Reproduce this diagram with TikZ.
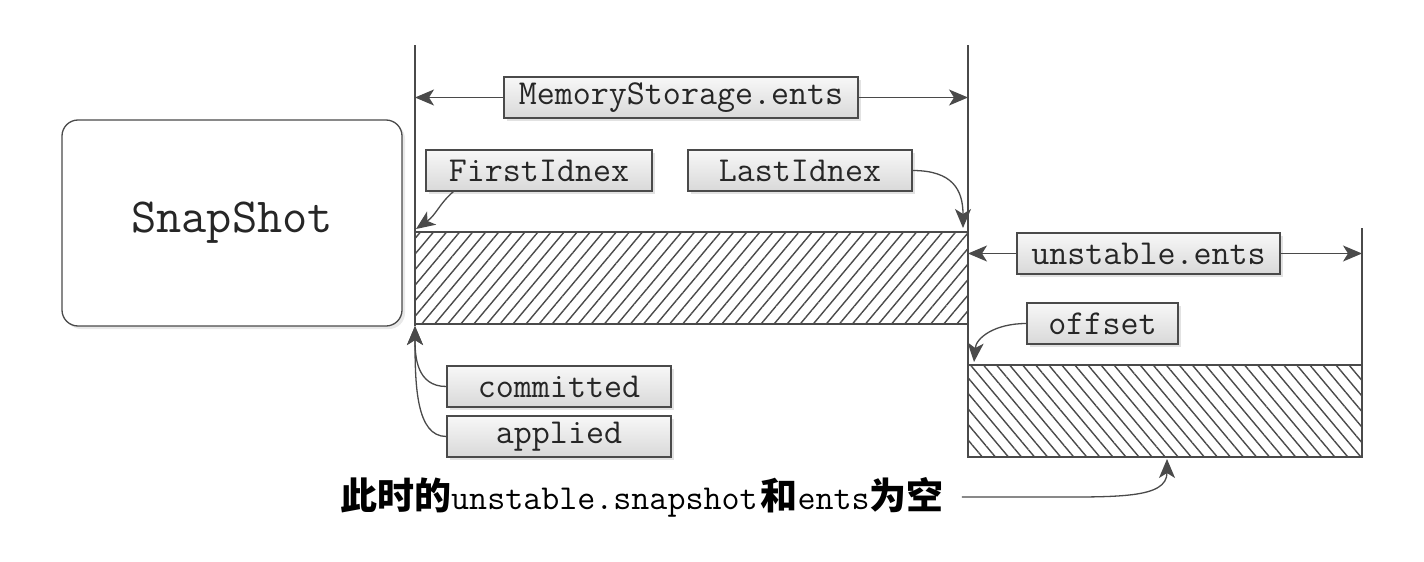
\documentclass[tikz,border=0pt]{standalone}
\usepackage{fontspec}
\newfontfamily\cjk{Noto Sans CJK SC}
\usetikzlibrary{arrows.meta,shadows,patterns.meta}
\definecolor{ln}{HTML}{4A4A4A}
\definecolor{txt}{HTML}{262626}
\begin{document}
\begin{tikzpicture}[x=1pt,y=-1pt,
  ln/.style={draw=ln,line width=1.3pt},
  arrowtip/.style={-{Stealth[length=19pt,width=16pt,inset=5pt]}},
  lbl/.style={draw=ln,line width=1.3pt,top color=gray!6,bottom color=gray!30,
    drop shadow={shadow xshift=3pt,shadow yshift=-3pt,fill=gray!45},
    minimum height=41pt,inner sep=0pt,text=txt,
    font=\ttfamily\fontsize{35}{35}\selectfont},
  snap/.style={draw=ln,line width=1.3pt,fill=white,rounded corners=16pt,
    drop shadow={shadow xshift=3pt,shadow yshift=-3pt,fill=gray!35},
    minimum width=340pt,minimum height=206pt,inner sep=0pt,text=txt,
    font=\ttfamily\fontsize{49}{49}\selectfont},
  hatchA/.style={draw=ln,line width=1.3pt,pattern={Lines[angle=50,distance=10pt,line width=1.4pt]},pattern color=ln},
  hatchB/.style={draw=ln,line width=1.3pt,pattern={Lines[angle=-50,distance=10pt,line width=1.4pt]},pattern color=ln}
]
\useasboundingbox (0,0) rectangle (1424,562);
\fill[white] (0,0) rectangle (1424,562);

% snapshot
\node[snap] (snap) at (232,223) {SnapShot};

% hatched areas
\path[hatchA] (415,232) rectangle (968,324);
\path[hatchB] (968,365) rectangle (1362,457);

% vertical lines
\coordinate (vAtop) at (415,45);
\coordinate (vAbot) at (415,326);
\coordinate (vBtop) at (968,45);
\coordinate (vBbot) at (968,457);
\coordinate (vCtop) at (1362,228);
\coordinate (vCbot) at (1362,365);
\draw[ln] (vAtop) -- (vAbot);
\draw[ln] (vBtop) -- (vBbot);
\draw[ln] (vCtop) -- (vCbot);

% labels
\node[lbl,minimum width=354pt] (ms) at (681,97.5) {MemoryStorage.ents};
\node[lbl,minimum width=226pt] (fi) at (539,170.5) {FirstIdnex};
\node[lbl,minimum width=224pt] (li) at (800,170.5) {LastIdnex};
\node[lbl,minimum width=263pt] (us) at (1148.5,253.5) {unstable.ents};
\node[lbl,minimum width=151pt] (of) at (1102.5,323.5) {offset};
\node[lbl,minimum width=224pt] (cm) at (559,386.5) {committed};
\node[lbl,minimum width=224pt] (ap) at (559,436.5) {applied};

% arrow end points
\coordinate (msL) at (415,97.5);
\coordinate (msR) at (968,97.5);
\coordinate (usL) at (968,253.5);
\coordinate (usR) at (1362,253.5);
\coordinate (fiT) at (416,229);
\coordinate (liT) at (963,228);
\coordinate (ofT) at (974,362);
\coordinate (caT) at (1167,459);

\draw[ln,arrowtip] (ms.west) -- (msL);
\draw[ln,arrowtip] (ms.east) -- (msR);
\draw[ln,arrowtip] (us.west) -- (usL);
\draw[ln,arrowtip] (us.east) -- (usR);

\draw[ln,arrowtip] ([xshift=28pt]fi.south west) .. controls +(-14,12) and +(20,-14) .. (fiT);
\draw[ln,arrowtip] (li.east) .. controls +(40,0) and +(0,-38) .. (liT);
\draw[ln,arrowtip] (of.west) .. controls +(-32,0) and +(2,-24) .. (ofT);
\draw[ln,arrowtip] (cm.west) .. controls +(-30,0) and +(0,30) .. (vAbot);
\draw[ln,arrowtip] (ap.west) .. controls +(-30,0) and +(0,60) .. (vAbot);

% caption
\node[inner sep=0pt,anchor=west,text=black] (cap) at (340,497)
  {{\cjk\bfseries\fontsize{37}{37}\selectfont 此时的}{\ttfamily\fontsize{35}{35}\selectfont unstable.snapshot}\hspace{3pt}{\cjk\bfseries\fontsize{37}{37}\selectfont 和}{\ttfamily\fontsize{35}{35}\selectfont ents}{\cjk\bfseries\fontsize{37}{37}\selectfont 为空}};
\draw[ln,arrowtip] ([xshift=18pt]cap.east) -- ++(75,0) .. controls +(80,0) and +(0,40) .. (caT);
\end{tikzpicture}
\end{document}
